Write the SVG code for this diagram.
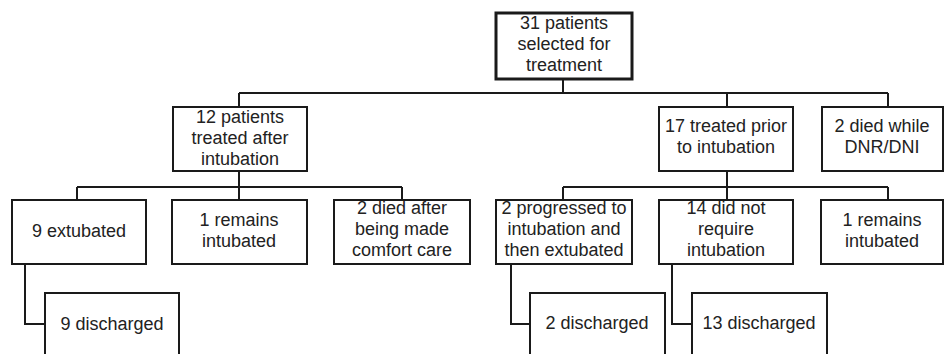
<svg xmlns="http://www.w3.org/2000/svg" width="944" height="354" viewBox="0 0 944 354">
<style>
.box{fill:#fff;stroke:#1a1a1a;stroke-width:2}
.top{stroke-width:3}
.c{fill:none;stroke:#1a1a1a;stroke-width:2}
text{font-family:"Liberation Sans",Arial,sans-serif;font-size:18px;fill:#222;text-anchor:middle}
</style>
<rect width="944" height="354" fill="#fff"/>
<g id="connectors">
<path class="c" d="M563 79V93M239 93H888M239 93V107M727 93V107M888 93V107"/>
<path class="c" d="M239 171V187M77 187H402M77 187V200M239 187V200M402 187V200"/>
<path class="c" d="M727 171V187M563 187H888M563 187V200M727 187V200M888 187V200"/>
<path class="c" d="M25 264V324H45M511 264V324H530M672 264V324H692"/>
</g>
<g id="n31"><rect class="box top" x="496" y="13" width="136" height="66"/><text x="564" y="29">31 patients</text><text x="564" y="50">selected for</text><text x="564" y="71">treatment</text></g>
<g id="n12"><rect class="box" x="173" y="107" width="134" height="64"/><text x="240" y="123">12 patients</text><text x="240" y="144">treated after</text><text x="240" y="165">intubation</text></g>
<g id="n17"><rect class="box" x="659" y="107" width="134" height="64"/><text x="726" y="132">17 treated prior</text><text x="726" y="153">to intubation</text></g>
<g id="ndnr"><rect class="box" x="822" y="107" width="121" height="64"/><text x="882" y="132">2 died while</text><text x="882" y="153">DNR/DNI</text></g>
<g id="n9ext"><rect class="box" x="12" y="200" width="134" height="64"/><text x="79" y="237">9 extubated</text></g>
<g id="n1int"><rect class="box" x="172" y="200" width="135" height="64"/><text x="239" y="226">1 remains</text><text x="239" y="247">intubated</text></g>
<g id="n2comf"><rect class="box" x="334" y="200" width="136" height="64"/><text x="402" y="214">2 died after</text><text x="402" y="235">being made</text><text x="402" y="256">comfort care</text></g>
<g id="n2prog"><rect class="box" x="496" y="200" width="136" height="64"/><text x="564" y="214">2 progressed to</text><text x="564" y="235">intubation and</text><text x="564" y="256">then extubated</text></g>
<g id="n14"><rect class="box" x="659" y="200" width="134" height="64"/><text x="726" y="214">14 did not</text><text x="726" y="235">require</text><text x="726" y="256">intubation</text></g>
<g id="n1int2"><rect class="box" x="821" y="200" width="122" height="64"/><text x="882" y="226">1 remains</text><text x="882" y="247">intubated</text></g>
<g id="n9dis"><rect class="box" x="45" y="293" width="134" height="70"/><text x="112" y="330">9 discharged</text></g>
<g id="n2dis"><rect class="box" x="530" y="293" width="135" height="70"/><text x="597" y="329">2 discharged</text></g>
<g id="n13dis"><rect class="box" x="692" y="293" width="135" height="70"/><text x="759" y="329">13 discharged</text></g>
</svg>
